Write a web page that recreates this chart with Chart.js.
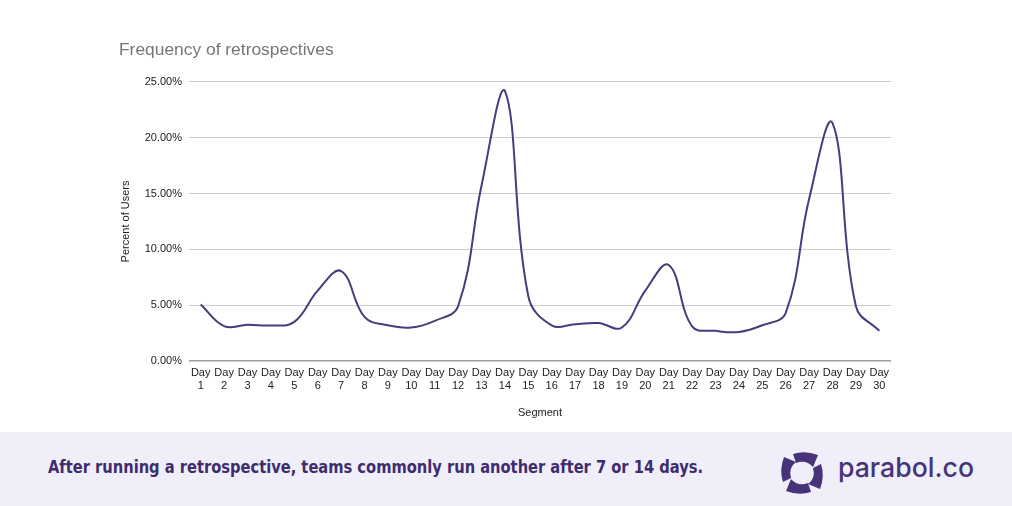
<!DOCTYPE html>
<html>
<head>
<meta charset="utf-8">
<script src="https://cdn.jsdelivr.net/npm/chart.js@4.4.1/dist/chart.umd.min.js"></script>
<style>
  html, body { margin: 0; padding: 0; background: #ffffff; }
  #wrap { position: relative; width: 1012px; height: 506px; overflow: hidden; }
  #chartBox { position: absolute; left: 0; top: 0; width: 1012px; height: 432px; }
  #footer { position: absolute; left: 0; top: 432px; width: 1012px; height: 74px; background: #f0eef9; }
  #caption { position: absolute; left: 48px; top: 24px; white-space: nowrap;
    font-family: "DejaVu Sans Condensed", "Liberation Sans Narrow", "DejaVu Sans", sans-serif;
    font-stretch: condensed; font-weight: bold; font-size: 18.5px; color: #3d2c6e; transform-origin: 0 0; }
  #logoText { position: absolute; left: 838px; top: 19px; white-space: nowrap;
    font-family: "Inter", "Roboto", sans-serif; font-weight: 500; font-size: 27px; color: #46337a; transform-origin: 0 0; }
  #logoIcon { position: absolute; left: 777px; top: 20px; }
</style>
</head>
<body>
<div id="wrap">
  <div id="chartBox"><canvas id="c"></canvas></div>
  <div id="footer">
    <div id="caption">After running a retrospective, teams commonly run another after 7 or 14 days.</div>
    <svg id="logoIcon" width="50" height="42" viewBox="-25 -21 50 42">
      <g fill="#46337a">
        <path d="M-6,-10 Q4,-14 11,-6 L16,-18 Q3,-23 -9,-19 Z" />
        <path d="M11,-5 Q14,5 6,11 L18,16 Q23,3 19,-9 Z" />
        <path d="M6,10 Q-4,14 -11,6 L-16,18 Q-3,23 9,19 Z" />
        <path d="M-11,5 Q-14,-5 -6,-11 L-18,-16 Q-23,-3 -19,9 Z" />
      </g>
    </svg>
    <div id="logoText">parabol.co</div>
  </div>
</div>
<script>
const chartTitle = "Frequency of retrospectives";
const yAxisTitle = "Percent of Users";
const xAxisTitle = "Segment";
const dayNumbers = ["1","2","3","4","5","6","7","8","9","10","11","12","13","14","15","16","17","18","19","20","21","22","23","24","25","26","27","28","29","30"];
const percentOfUsers = [5.06, 3.12, 3.24, 3.18, 3.5, 6.3, 8.06, 3.95, 3.2, 3.0,
                        3.6, 4.9, 15.7, 24.2, 5.8, 3.2, 3.3, 3.4, 3.0, 6.3,
                        8.6, 3.1, 2.7, 2.6, 3.2, 4.3, 14.5, 21.3, 4.9, 2.7];
const yTickValues = [0, 5, 10, 15, 20, 25];

const labels = dayNumbers.map(n => ["Day", n]);

new Chart(document.getElementById('c'), {
  type: 'line',
  data: {
    labels: labels,
    datasets: [{
      data: percentOfUsers,
      borderColor: '#4a3a7e',
      borderWidth: 2,
      pointRadius: 0,
      pointHoverRadius: 0,
      tension: 0.4,
      fill: false
    }]
  },
  options: {
    responsive: true,
    maintainAspectRatio: false,
    animation: false,
    layout: { padding: { left: 119, right: 121, top: 0, bottom: 8 } },
    plugins: {
      legend: { display: false },
      tooltip: { enabled: false },
      title: {
        display: true,
        text: chartTitle,
        align: 'start',
        color: '#757575',
        font: { family: 'Liberation Sans, Arial, sans-serif', size: 17.4, weight: 'normal' },
        padding: { top: 40, bottom: 21 }
      }
    },
    scales: {
      x: {
        offset: true,
        grid: { display: false, drawTicks: false },
        border: { display: false },
        ticks: {
          autoSkip: false, maxRotation: 0, minRotation: 0, padding: 5,
          color: '#222222',
          font: { family: 'Liberation Sans, Arial, sans-serif', size: 11 }
        },
        title: {
          display: true, text: xAxisTitle, color: '#222222',
          font: { family: 'Liberation Sans, Arial, sans-serif', size: 11 },
          padding: { top: 4, bottom: 4 }
        },
        afterFit: (s) => { s.height = 63; }
      },
      y: {
        min: 0, max: 25,
        afterBuildTicks: (s) => { s.ticks = yTickValues.map(v => ({ value: v })); },
        grid: {
          drawTicks: false,
          color: (ctx) => ctx.tick && ctx.tick.value === 0 ? '#9e9e9e' : '#cccccc',
          lineWidth: (ctx) => ctx.tick && ctx.tick.value === 0 ? 1.6 : 1
        },
        border: { display: false },
        ticks: {
          padding: 7, color: '#222222',
          font: { family: 'Liberation Sans, Arial, sans-serif', size: 11 },
          callback: (v) => Number(v).toFixed(2) + '%'
        },
        title: {
          display: true, text: yAxisTitle, color: '#222222',
          font: { family: 'Liberation Sans, Arial, sans-serif', size: 11 },
          padding: { top: 0, bottom: 2 }
        },
        afterFit: (s) => { s.width = 70; }
      }
    }
  }
});

function fitWidth(id, target) {
  const el = document.getElementById(id);
  const w = el.getBoundingClientRect().width;
  if (w > 0) el.style.transform = 'scaleX(' + (target / w) + ')';
}
fitWidth('caption', 655);
fitWidth('logoText', 136);
</script>
</body>
</html>
